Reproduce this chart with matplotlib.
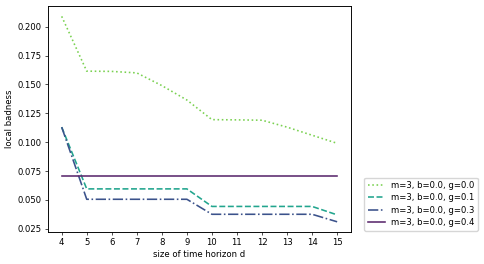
import matplotlib
matplotlib.use('Agg')
import matplotlib.pyplot as plt

d = [4, 5, 6, 7, 8, 9, 10, 11, 12, 13, 14, 15]

# local badness for each parameter setting
g00 = [0.209, 0.1615, 0.1613, 0.160, 0.149, 0.1365, 0.1195, 0.1193, 0.119, 0.113, 0.106, 0.099]
g01 = [0.113, 0.0595, 0.0595, 0.0595, 0.0595, 0.0595, 0.0443, 0.0443, 0.0443, 0.0443, 0.0443, 0.037]
g03 = [0.113, 0.0505, 0.0505, 0.0505, 0.0505, 0.0505, 0.0375, 0.0375, 0.0375, 0.0375, 0.0375, 0.031]
g04 = [0.071] * len(d)

labels = ['m=3, b=0.0, g=0.0', 'm=3, b=0.0, g=0.1', 'm=3, b=0.0, g=0.3', 'm=3, b=0.0, g=0.4']

# the original looks like a default figure shrunk to about 0.6
s = 0.61
plt.rcParams['font.size'] = 10 * s
plt.rcParams['lines.linewidth'] = 1.9 * s
plt.rcParams['axes.linewidth'] = 1.1 * s
for a in ['xtick', 'ytick']:
    plt.rcParams[a + '.major.size'] = 3.5 * s
    plt.rcParams[a + '.major.pad'] = 3.5 * s
    plt.rcParams[a + '.major.width'] = 0.8 * s

fig = plt.figure(figsize=(4.84, 2.64), dpi=100)
ax = fig.add_axes([0.099, 0.121, 0.626, 0.856])

ax.plot(d, g00, linestyle=':', color='#7ad151', label=labels[0])
ax.plot(d, g01, linestyle='--', color='#22a58e', label=labels[1])
ax.plot(d, g03, linestyle='-.', color='#3b528b', label=labels[2])
ax.plot(d, g04, linestyle='-', color='#5c2a6e', label=labels[3])

ax.set_xticks(d)
ax.set_yticks([0.025, 0.05, 0.075, 0.1, 0.125, 0.15, 0.175, 0.2])
ax.set_xlabel('size of time horizon d', labelpad=4 * s)
ax.set_ylabel('local badness', labelpad=4 * s)
ax.legend(loc='lower left', bbox_to_anchor=(1.03, -0.012), fontsize=10 * s,
          labelspacing=0.4)

plt.savefig('out.png', dpi=100)
